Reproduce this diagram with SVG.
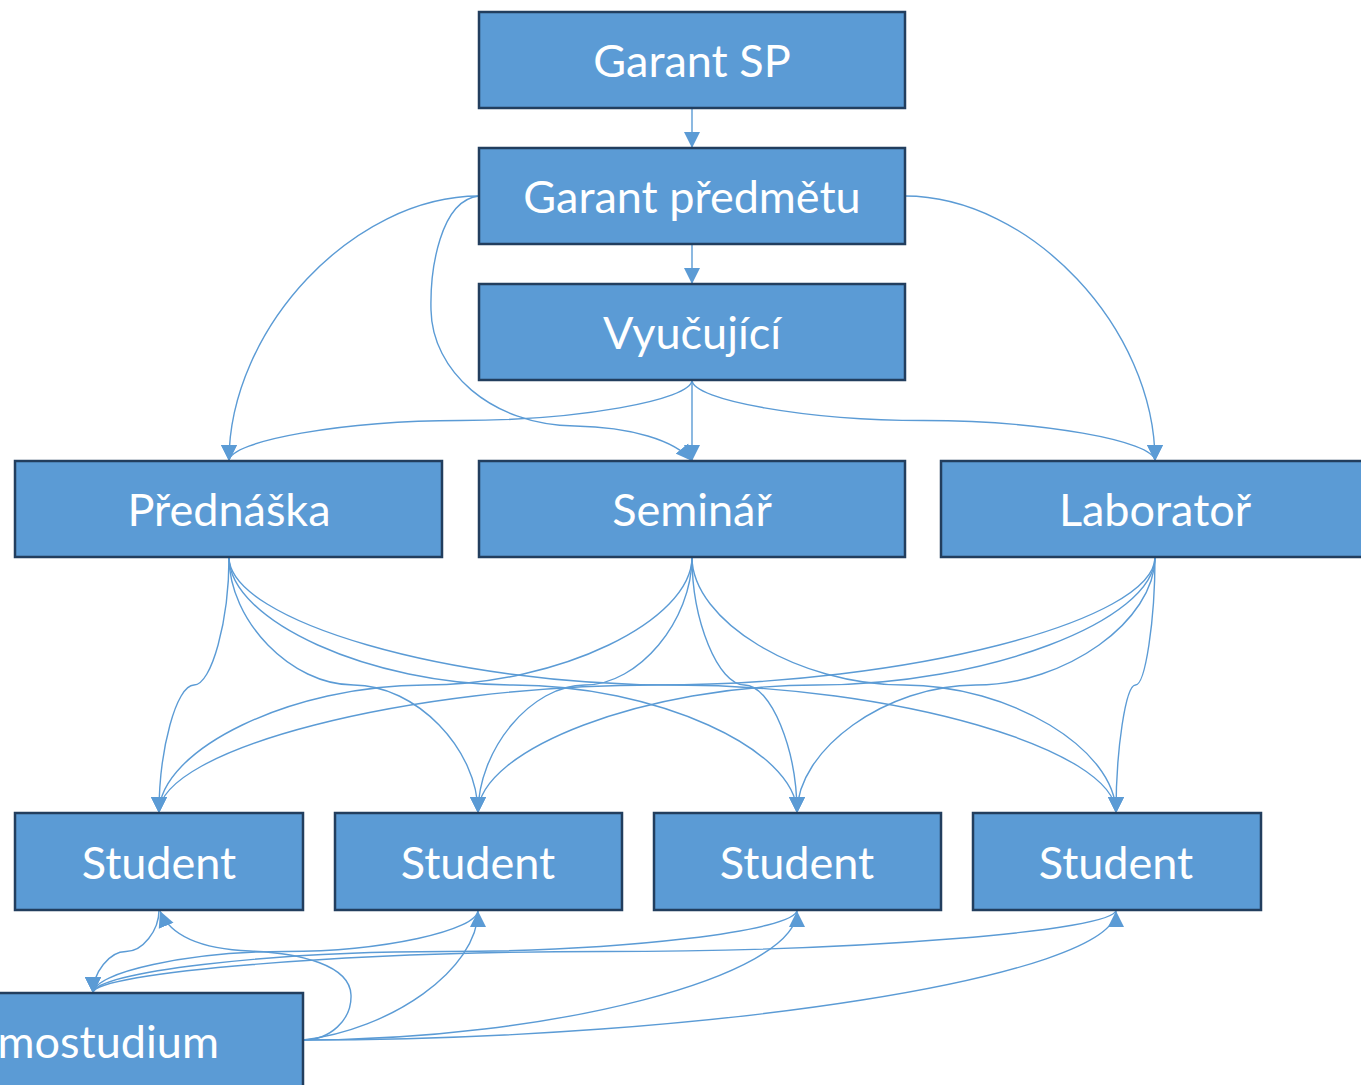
<svg xmlns="http://www.w3.org/2000/svg" width="1361" height="1085" viewBox="0 0 1361 1085">
<style>
.box{fill:#5B9BD5;stroke:#223E5E;stroke-width:2.5}
.lbl{font-family:Lato,"Open Sans","DejaVu Sans",sans-serif;font-size:45px;fill:#FFFFFF;text-anchor:middle}
.c{fill:none;stroke:#5B9BD5;stroke-width:1.4;marker-end:url(#ah)}
</style>
<defs>
<marker id="ah" viewBox="0 0 16 16" refX="16" refY="8" markerWidth="16" markerHeight="17" markerUnits="userSpaceOnUse" orient="auto">
<path d="M0,0 L16,8 L0,16 z" fill="#5B9BD5"/>
</marker>
</defs>
<rect width="1361" height="1085" fill="#FFFFFF"/>
<g id="connectors">
<path class="c" d="M692,108 L692,148"/>
<path class="c" d="M692,244 L692,284"/>
<path class="c" d="M479,196 C354,196 229,328.5 229,461"/>
<path class="c" d="M479,196 C440,200 430,270 431,310 C432,370 490,425 575,426 C630,427 675,440 692,461"/>
<path class="c" d="M905,196 C1030,196 1155,328.5 1155,461"/>
<path class="c" d="M692,380 C692,400.25 576.25,420.5 460.5,420.5 C344.75,420.5 229,440.75 229,461"/>
<path class="c" d="M692,380 L692,461"/>
<path class="c" d="M692,380 C692,400.25 807.75,420.5 923.5,420.5 C1039.25,420.5 1155,440.75 1155,461"/>
<path class="c" d="M229,557 C229,621 211.5,685 194,685 C176.5,685 159,749 159,813"/>
<path class="c" d="M229,557 C229,621 291.25,685 353.5,685 C415.75,685 478,749 478,813"/>
<path class="c" d="M229,557 C229,621 371,685 513,685 C655,685 797,749 797,813"/>
<path class="c" d="M229,557 C229,621 450.75,685 672.5,685 C894.25,685 1116,749 1116,813"/>
<path class="c" d="M692,557 C692,621 558.75,685 425.5,685 C292.25,685 159,749 159,813"/>
<path class="c" d="M692,557 C692,621 638.5,685 585,685 C531.5,685 478,749 478,813"/>
<path class="c" d="M692,557 C692,621 718.25,685 744.5,685 C770.75,685 797,749 797,813"/>
<path class="c" d="M692,557 C692,621 798,685 904,685 C1010,685 1116,749 1116,813"/>
<path class="c" d="M1155,557 C1155,621 906,685 657,685 C408,685 159,749 159,813"/>
<path class="c" d="M1155,557 C1155,621 985.75,685 816.5,685 C647.25,685 478,749 478,813"/>
<path class="c" d="M1155,557 C1155,621 1065.5,685 976,685 C886.5,685 797,749 797,813"/>
<path class="c" d="M1155,557 C1155,621 1145.25,685 1135.5,685 C1125.75,685 1116,749 1116,813"/>
<path class="c" d="M159,910 C159,930.75 142.5,951.5 126,951.5 C109.5,951.5 93,972.25 93,993"/>
<path class="c" d="M478,910 C478,930.75 381.75,951.5 285.5,951.5 C189.25,951.5 93,972.25 93,993"/>
<path class="c" d="M797,910 C797,930.75 621,951.5 445,951.5 C269,951.5 93,972.25 93,993"/>
<path class="c" d="M1116,910 C1116,930.75 860.25,951.5 604.5,951.5 C348.75,951.5 93,972.25 93,993"/>
<path class="c" d="M303,1040 C330,1040 352,1020 351,995 C350,965 300,953 250,951 C200,949 170,935 160,911"/>
<path class="c" d="M303,1040 C390,1030 478,970 478,911"/>
<path class="c" d="M303,1040 C550,1040 797,976.5 797,911"/>
<path class="c" d="M303,1040 C709.5,1040 1116,976.5 1116,911"/>
</g>
<g id="garant-sp"><rect class="box" x="479" y="12" width="426" height="96"/><text class="lbl" x="692" y="77">Garant SP</text></g>
<g id="garant-predmetu"><rect class="box" x="479" y="148" width="426" height="96"/><text class="lbl" x="692" y="213">Garant předmětu</text></g>
<g id="vyucujici"><rect class="box" x="479" y="284" width="426" height="96"/><text class="lbl" x="692" y="349">Vyučující</text></g>
<g id="prednaska"><rect class="box" x="15" y="461" width="427" height="96"/><text class="lbl" x="229" y="526">Přednáška</text></g>
<g id="seminar"><rect class="box" x="479" y="461" width="426" height="96"/><text class="lbl" x="692" y="526">Seminář</text></g>
<g id="laborator"><rect class="box" x="941" y="461" width="427" height="96"/><text class="lbl" x="1155" y="526">Laboratoř</text></g>
<g id="student1"><rect class="box" x="15" y="813" width="288" height="97"/><text class="lbl" x="159" y="879">Student</text></g>
<g id="student2"><rect class="box" x="335" y="813" width="287" height="97"/><text class="lbl" x="478" y="879">Student</text></g>
<g id="student3"><rect class="box" x="654" y="813" width="287" height="97"/><text class="lbl" x="797" y="879">Student</text></g>
<g id="student4"><rect class="box" x="973" y="813" width="288" height="97"/><text class="lbl" x="1116" y="879">Student</text></g>
<g id="samostudium"><rect class="box" x="-119" y="993" width="422" height="96"/><text class="lbl" x="85" y="1058">Samostudium</text></g>
</svg>
